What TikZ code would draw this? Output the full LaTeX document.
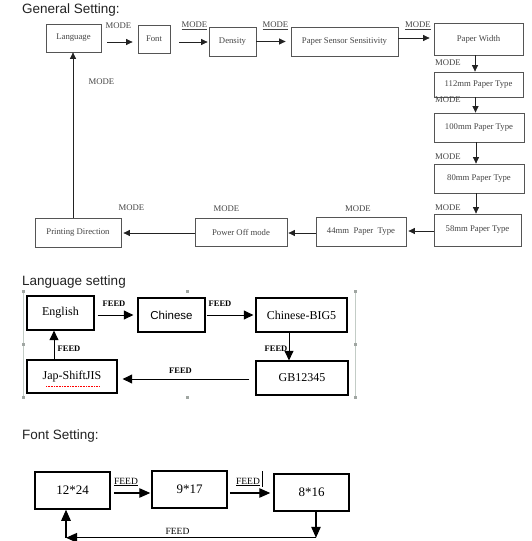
\documentclass[tikz,border=0pt]{standalone}
\usepackage{fontspec}
\setmainfont{Liberation Serif}
\newfontfamily\headfont{Liberation Sans}
\usetikzlibrary{calc,arrows.meta,positioning}

\begin{document}
\begin{tikzpicture}[x=1pt, y=-1pt, >=Stealth,
    head/.style={anchor=base west, inner sep=0pt, text=headCol, font=\headfont\fontsize{13.5}{16}\selectfont},
    gbox/.style={draw=boxCol, line width=0.8pt, inner sep=0pt, text=textCol, font=\fontsize{8.7}{10}\selectfont},
    glbl/.style={inner sep=0pt, text=textCol, font=\fontsize{8.7}{10}\selectfont},
    garr/.style={draw=arrCol, line width=0.7pt, -{Triangle[length=6.5pt,width=6pt]}},
    lbox/.style={draw=black, line width=1.3pt, inner sep=0pt, font=\fontsize{12}{14}\selectfont},
    llbl/.style={inner sep=0pt, font=\bfseries\fontsize{8.5}{10}\selectfont},
    larr/.style={draw=black, line width=1pt, -{Triangle[length=9.5pt,width=9pt]}},
    fbox/.style={draw=black, line width=1.5pt, inner sep=0pt, font=\fontsize{13}{15}\selectfont},
    flbl/.style={inner sep=0pt, font=\fontsize{9.5}{11}\selectfont},
    farr/.style={draw=black, line width=1.2pt, -{Triangle[length=11pt,width=9.5pt]}}]

    % Colors
    \definecolor{headCol}{HTML}{222222}
    \definecolor{boxCol}{HTML}{555555}
    \definecolor{textCol}{HTML}{444444}
    \definecolor{arrCol}{HTML}{222222}
    \definecolor{frameCol}{HTML}{C3CCC6}
    \definecolor{handleCol}{HTML}{A0A6A2}

    \useasboundingbox (0,0) rectangle (531,541);

    % 1. General Setting
    \node[head] (hGen) at (22,13) {General Setting:};

    \node[gbox, minimum width=55, minimum height=28] (lang) at (73.5,38) {Language};
    \node[gbox, minimum width=32, minimum height=28] (font) at (154,39) {Font};
    \node[gbox, minimum width=47, minimum height=29] (dens) at (232.5,41.5) {Density};
    \node[gbox, minimum width=107, minimum height=29] (sens) at (344.5,41.5) {Paper Sensor Sensitivity};
    \node[gbox, minimum width=89, minimum height=32] (pwid) at (478.5,39) {Paper Width};
    \node[gbox, minimum width=89, minimum height=25] (p112) at (478.5,84.5) {112mm Paper Type};
    \node[gbox, minimum width=90, minimum height=29] (p100) at (479,127.5) {100mm Paper Type};
    \node[gbox, minimum width=90, minimum height=29] (p80) at (479,178.5) {80mm Paper Type};
    \node[gbox, minimum width=87, minimum height=32] (p58) at (477.5,230) {58mm Paper Type};
    \node[gbox, minimum width=90, minimum height=29] (p44) at (361,231.5) {44mm\ \ Paper\ \ Type};
    \node[gbox, minimum width=92, minimum height=28] (poff) at (241,232) {Power Off mode};
    \node[gbox, minimum width=86, minimum height=29] (pdir) at (78,232.5) {Printing Direction};

    % top row
    \draw[garr, shorten <=6pt, shorten >=5pt] ([yshift=-4pt]lang.east) -- ([yshift=-4pt]lang.east -| font.west);
    \draw[garr, shorten <=9pt, shorten >=1pt] ([yshift=-3pt]font.east) -- ([yshift=-3pt]font.east -| dens.west);
    \draw[garr, shorten >=5pt] (dens.east) -- (dens.east -| sens.west);
    \draw[garr, shorten >=4pt] ([yshift=3.5pt]sens.east) -- ([yshift=3.5pt]sens.east -| pwid.west);

    % right column
    \draw[garr] ([xshift=-3.5pt]pwid.south) -- ([xshift=-3.5pt]pwid.south |- p112.north);
    \foreach \a/\b in {p112/p100, p100/p80, p80/p58} {
        \draw[garr] ([xshift=-3pt]\a.south) -- ([xshift=-3pt]\a.south |- \b.north);
    }

    % bottom row and return
    \draw[garr, shorten >=2pt] ([yshift=-1pt]p58.west) -- ([yshift=-1pt]p58.west -| p44.east);
    \draw[garr, shorten >=1pt] ([yshift=-1.5pt]p44.west) -- ([yshift=-1.5pt]p44.west -| poff.east);
    \draw[garr, shorten >=2pt] ([yshift=-1pt]poff.west) -- ([yshift=-1pt]poff.west -| pdir.east);
    \draw[garr] ([xshift=-5pt]pdir.north) -- ([xshift=-5pt]pdir.north |- lang.south);

    % MODE labels
    \node[glbl] (m1) at (118.5,26) {MODE};
    \node[glbl] (m2) at (194.5,26) {\underline{MODE}};
    \node[glbl] (m3) at (275.5,26) {\underline{MODE}};
    \node[glbl] (m4) at (418,26) {\underline{MODE}};
    \foreach \y [count=\i from 5] in {63, 100, 157, 208} {
        \node[glbl] (m\i) at (448,\y) {MODE};
    }
    \node[glbl] (m9) at (358,209) {MODE};
    \node[glbl] (m10) at (226.5,209) {MODE};
    \node[glbl] (m11) at (131.5,208) {MODE};
    \node[glbl] (m12) at (101.5,82) {MODE};

    % 2. Language setting
    \node[head] (hLang) at (22,285) {Language setting};

    % selection frame
    \draw[frameCol, line width=1pt] (23,291) -- (23,397);
    \draw[frameCol, line width=1pt] (355,291) -- (355,397);
    \foreach \x/\y in {23/291, 187/291, 355/291, 23/344, 355/344, 23/397, 187/397, 355/397} {
        \fill[handleCol] (\x-1.5,\y-1.5) rectangle ++(3,3);
    }

    \node[lbox, minimum width=67, minimum height=34] (en) at (60.5,313) {English};
    \node[lbox, minimum width=67, minimum height=34, font=\headfont\fontsize{11.5}{14}\selectfont] (cn) at (171.5,315) {Chinese};
    \node[lbox, minimum width=91, minimum height=34] (big5) at (301.5,315) {Chinese-BIG5};
    \node[lbox, minimum width=92, minimum height=34] (gb) at (302,378) {GB12345};
    \node[lbox, minimum width=90, minimum height=33] (jis) at (72,376.5) {Jap-ShiftJIS};
    \draw[red, densely dotted, line width=0.6pt] ($(jis.center)+(-26,10)$) -- ++(54,0);

    \draw[larr, shorten <=3pt, shorten >=4pt] ([yshift=-2pt]en.east) -- ([yshift=-2pt]en.east -| cn.west);
    \draw[larr, shorten <=1pt, shorten >=2pt] (cn.east) -- (big5.west);
    \draw[larr] ([xshift=-12.5pt]big5.south) -- ([xshift=-12.5pt]big5.south |- gb.north);
    \draw[larr, shorten <=6pt, shorten >=5pt] ([yshift=-1pt]gb.west) -- ([yshift=-1pt]gb.west -| jis.east);
    \draw[larr] ([xshift=-18pt]jis.north) -- ([xshift=-18pt]jis.north |- en.south);

    \node[llbl] (l1) at (114,304) {FEED};
    \node[llbl] (l2) at (220,304) {FEED};
    \node[llbl] (l3) at (276,349) {FEED};
    \node[llbl] (l4) at (180.5,371) {FEED};
    \node[llbl] (l5) at (69,349) {FEED};

    % 3. Font Setting
    \node[head] (hFont) at (22,439) {Font Setting:};

    \node[fbox, minimum width=75, minimum height=37] (f1224) at (72.5,490.5) {12*24};
    \node[fbox, minimum width=75, minimum height=37] (f917) at (189.5,489.5) {9*17};
    \node[fbox, minimum width=75, minimum height=37] (f816) at (311.5,492.5) {8*16};

    \draw[farr, shorten <=3pt, shorten >=1pt] ([yshift=-2.5pt]f1224.east) -- ([yshift=-2.5pt]f1224.east -| f917.west);
    \draw[farr, shorten <=2pt, shorten >=3pt] ([yshift=-3.5pt]f917.east) -- ([yshift=-3.5pt]f917.east -| f816.west);
    \draw[line width=0.8pt] (262,471) -- (262,487);

    \coordinate (fR) at ($(f816.south)+(4.5,26)$);
    \coordinate (fL) at ([xshift=-6.5pt]f1224.south |- fR);
    \draw[farr] ([xshift=4.5pt]f816.south) -- (fR);
    \draw[farr] (fR) -- (fL);
    \draw[farr] (fL) -- ([xshift=-6.5pt]f1224.south);

    \node[flbl] (t1) at (126,482) {\underline{FEED}};
    \node[flbl] (t2) at (248,482) {\underline{FEED}};
    \node[flbl] (t3) at (177.5,531) {FEED};
\end{tikzpicture}
\end{document}
